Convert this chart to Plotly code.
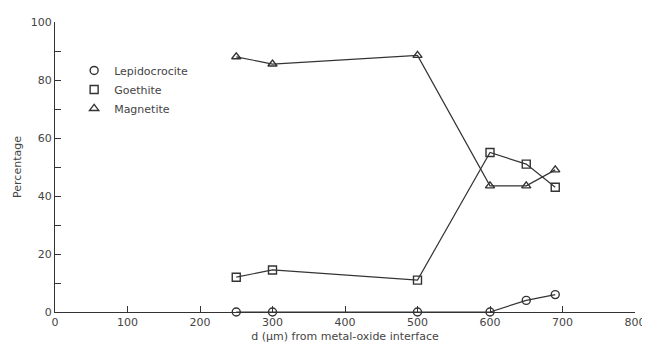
import plotly.graph_objects as go

d_um = [250, 300, 500, 600, 650, 690]
lepidocrocite = [0, 0, 0, 0, 4, 6]
goethite = [12, 14.5, 11, 55, 51, 43]
magnetite = [88, 85.5, 88.5, 43.5, 43.5, 49]
x_ticks = [0, 100, 200, 300, 400, 500, 600, 700, 800]

series = [
    ("Lepidocrocite", lepidocrocite, "circle-open"),
    ("Goethite", goethite, "square-open"),
    ("Magnetite", magnetite, "triangle-up-open"),
]

ink = "#333333"
fig = go.Figure()
for name, vals, sym in series:
    fig.add_trace(go.Scatter(
        x=d_um, y=vals, name=name, mode="lines+markers", showlegend=False,
        line=dict(color=ink, width=1.2),
        marker=dict(symbol=sym, size=8, color=ink, line=dict(width=1.4, color=ink)),
        cliponaxis=False,
    ))
for name, vals, sym in series:
    fig.add_trace(go.Scatter(
        x=[None], y=[None], name=name, mode="markers", showlegend=True,
        marker=dict(symbol=sym, size=8, color=ink, line=dict(width=1.4, color=ink)),
    ))

fig.update_layout(
    width=642, height=335,
    margin=dict(l=47, r=15, t=14, b=31),
    paper_bgcolor="white", plot_bgcolor="white",
    font=dict(family="DejaVu Sans", size=11, color="#444444"),
    showlegend=True,
    legend=dict(x=0.033, y=0.883, xanchor="left", yanchor="top",
                bgcolor="rgba(0,0,0,0)", font=dict(size=11, color="#444444"),
                itemwidth=30, tracegroupgap=0),
)
fig.update_xaxes(
    range=[0, 800], tickvals=x_ticks, ticktext=[str(v) for v in x_ticks],
    ticklabeloverflow="allow",
    showgrid=False, zeroline=False, automargin=False,
    showline=True, linecolor=ink, linewidth=1.2,
    ticks="inside", ticklen=6, tickcolor=ink,
    title=dict(text="d (μm) from metal-oxide interface", standoff=9, font=dict(size=11)),
)
fig.update_yaxes(
    range=[0, 100], dtick=20, showgrid=False, zeroline=False, automargin=False,
    showline=True, linecolor=ink, linewidth=1.2,
    ticks="inside", ticklen=6, tickcolor=ink,
    minor=dict(dtick=10, ticks="inside", ticklen=6, tickcolor=ink, showgrid=False),
    title=dict(text="Percentage", standoff=6, font=dict(size=11)),
)

fig.write_html("out.html")
